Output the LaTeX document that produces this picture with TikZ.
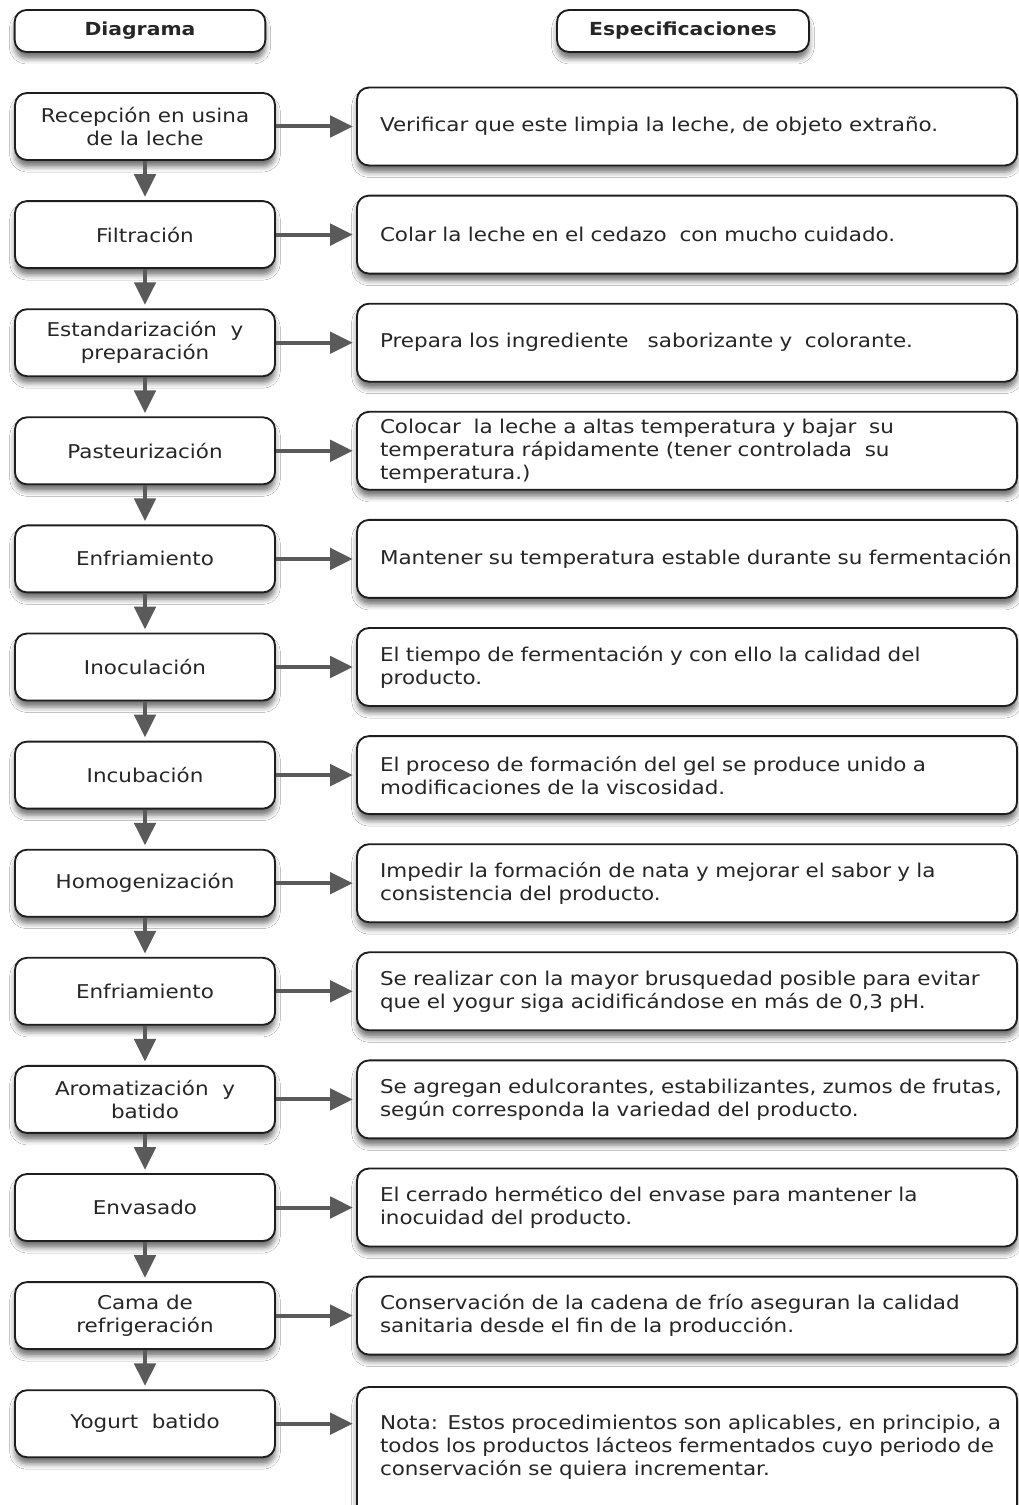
\documentclass[tikz,border=0pt]{standalone}
\usepackage{fontspec}
\setmainfont[FakeStretch=1.13]{DejaVu Sans}
\usetikzlibrary{arrows.meta,shadows.blur}
\definecolor{txt}{HTML}{262626}
\definecolor{edge}{HTML}{1E1E1E}
\definecolor{arr}{HTML}{5A5A5A}
\tikzset{
  boxbase/.style={draw=edge, line width=1.4pt, rounded corners=9pt, fill=white,
    text=txt, font=\fontsize{14.25pt}{17.25pt}\selectfont,
    blur shadow={shadow xshift=0pt, shadow yshift=-5pt, shadow blur radius=4pt, shadow opacity=55}},
  hbox/.style={boxbase, minimum width=188pt, minimum height=31.5pt, inner sep=0pt,
    font=\fontsize{13.5pt}{16pt}\selectfont\bfseries},
  lbox/.style={boxbase, minimum width=195pt, minimum height=50.25pt, inner sep=0pt, align=center},
  rbox/.style={boxbase, minimum width=495pt, minimum height=58.5pt, text width=460.5pt,
    inner xsep=17.25pt, inner ysep=0pt, align=left},
  flow/.style={draw=arr, line width=3pt, -{Triangle[length=17pt,width=16pt]}, shorten >=2.5pt},
}
\newcommand{\oneline}[1]{\mbox{#1}}
\begin{document}
\begin{tikzpicture}[x=0.75pt,y=-0.75pt]
\clip (0,0) rectangle (1019,1505);
\fill[white] (0,0) rectangle (1019,1505);

\node[hbox] (hd) at (140,31) {Diagrama};
\node[hbox, minimum width=189pt] (hs) at (683,31) {Especificaciones};

\node[lbox] (l1) at (145,126.5) {Recepción en usina\\de la leche};
\node[lbox] (l2) at (145,234.6) {Filtración};
\node[lbox] (l3) at (145,342.7) {Estandarización\ \ y\\preparación};
\node[lbox] (l4) at (145,450.8) {Pasteurización};
\node[lbox] (l5) at (145,558.9) {Enfriamiento};
\node[lbox] (l6) at (145,667) {Inoculación};
\node[lbox] (l7) at (145,775.1) {Incubación};
\node[lbox] (l8) at (145,883.2) {Homogenización};
\node[lbox] (l9) at (145,991.3) {Enfriamiento};
\node[lbox] (l10) at (145,1099.4) {Aromatización\ \ y\\batido};
\node[lbox] (l11) at (145,1207.5) {Envasado};
\node[lbox] (l12) at (145,1315.6) {Cama de\\refrigeración};
\node[lbox] (l13) at (145,1423.7) {Yogurt\ \ batido};

\node[rbox] (r1) at (687,126.5) {\oneline{Verificar que este limpia la leche, de objeto extraño.}};
\node[rbox] (r2) at (687,234.6) {\oneline{Colar la leche en el cedazo\ \ con mucho cuidado.}};
\node[rbox] (r3) at (687,342.7) {\oneline{Prepara los ingrediente\ \ \ saborizante y\ \ colorante.}};
\node[rbox] (r4) at (687,450.8) {\oneline{Colocar\ \ la leche a altas temperatura y bajar\ \ su}\\\oneline{temperatura rápidamente (tener controlada\ \ su}\\\oneline{temperatura.)}};
\node[rbox] (r5) at (687,558.9) {\oneline{Mantener su temperatura estable durante su fermentación}};
\node[rbox] (r6) at (687,667) {\oneline{El tiempo de fermentación y con ello la calidad del}\\\oneline{producto.}};
\node[rbox] (r7) at (687,775.1) {\oneline{El proceso de formación del gel se produce unido a}\\\oneline{modificaciones de la viscosidad.}};
\node[rbox] (r8) at (687,883.2) {\oneline{Impedir la formación de nata y mejorar el sabor y la}\\\oneline{consistencia del producto.}};
\node[rbox] (r9) at (687,991.3) {\oneline{Se realizar con la mayor brusquedad posible para evitar}\\\oneline{que el yogur siga acidificándose en más de 0,3 pH.}};
\node[rbox] (r10) at (687,1099.4) {\oneline{Se agregan edulcorantes, estabilizantes, zumos de frutas,}\\\oneline{según corresponda la variedad del producto.}};
\node[rbox] (r11) at (687,1207.5) {\oneline{El cerrado hermético del envase para mantener la}\\\oneline{inocuidad del producto.}};
\node[rbox] (r12) at (687,1315.6) {\oneline{Conservación de la cadena de frío aseguran la calidad}\\\oneline{sanitaria desde el fin de la producción.}};
\node[rbox, anchor=north, minimum height=105pt] (r13) at (687,1386) {\oneline{Nota: Estos procedimientos son aplicables, en principio, a}\\\oneline{todos los productos lácteos fermentados cuyo periodo de}\\\oneline{conservación se quiera incrementar.}\\\mbox{}};

\foreach \i in {1,...,12} {
  \draw[flow] (l\i.east) -- (r\i.west);
}
\draw[flow] (l13.east) -- (l13.east -| r13.west);
\foreach \i/\j in {1/2,2/3,3/4,4/5,5/6,6/7,7/8,8/9,9/10,10/11,11/12,12/13} {
  \draw[flow] (l\i.south) -- (l\j.north);
}
\end{tikzpicture}
\end{document}
